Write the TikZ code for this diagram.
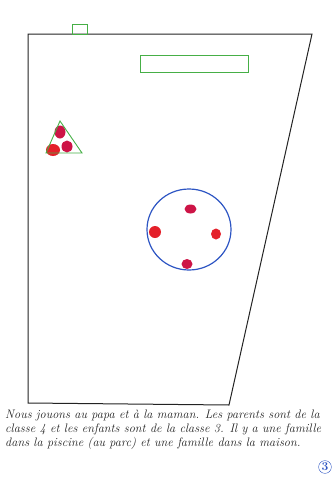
\documentclass[tikz,border=0pt]{standalone}
\usepackage{tikz}
\usetikzlibrary{positioning}
\definecolor{penblack}{RGB}{35,35,35}
\definecolor{pengreen}{RGB}{70,175,70}
\definecolor{penblue}{RGB}{45,85,195}
\definecolor{dotred}{RGB}{228,32,42}
\definecolor{dotcrimson}{RGB}{205,20,70}

\begin{document}
\begin{tikzpicture}[
  x=1pt, y=-1pt,
  outline/.style={draw=penblack, line width=1pt},
  greenbox/.style={draw=pengreen, line width=0.9pt},
  pool/.style={draw=penblue, line width=1.2pt},
  pawn/.style={fill=dotred},
  pawnc/.style={fill=dotcrimson},
  hand/.style={font=\itshape\fontsize{12.3}{14}\selectfont, align=left, inner sep=0pt, anchor=north west, text=penblack},
]
\useasboundingbox (0,0) rectangle (334,477);
% ---- house outline ----
\draw[outline] (28,403) -- (28,34) -- (312,34) -- (229,405) -- cycle;
% ---- green boxes ----
\draw[greenbox] (72,24) rectangle (87,34);
\draw[greenbox] (140,55) rectangle (248,72);
% ---- triangle with pawns ----
\fill[pawnc] (60,132) ellipse [x radius=5.5pt, y radius=6.5pt];
\fill[pawn] (53,150) ellipse [x radius=7pt, y radius=6pt];
\fill[pawnc] (67,146.5) ellipse [x radius=5.5pt, y radius=6pt];
\draw[greenbox] (60,121) -- (82,153) -- (46,153) -- cycle;
% ---- pool with pawns ----
\draw[pool] (189,229.5) ellipse [x radius=42pt, y radius=40.5pt];
\fill[pawnc] (190.5,209) ellipse [x radius=6pt, y radius=4.5pt];
\fill[pawn] (155,232) circle [radius=6pt];
\fill[pawn] (216,234) ellipse [x radius=5pt, y radius=5.5pt];
\fill[pawnc] (187,264) ellipse [x radius=5.5pt, y radius=5pt];
% ---- caption ----
\node[hand] (caption) at (5,410) {Nous jouons au papa et à la maman. Les parents sont de la\\
classe 4 et les enfants sont de la classe 3. Il y a une famille\\
dans la piscine (au parc) et une famille dans la maison.};
\node[draw=penblue, circle, text=penblue, inner sep=0.8pt, font=\bfseries\large] (pagenum) at (325,467) {3};
\end{tikzpicture}
\end{document}
